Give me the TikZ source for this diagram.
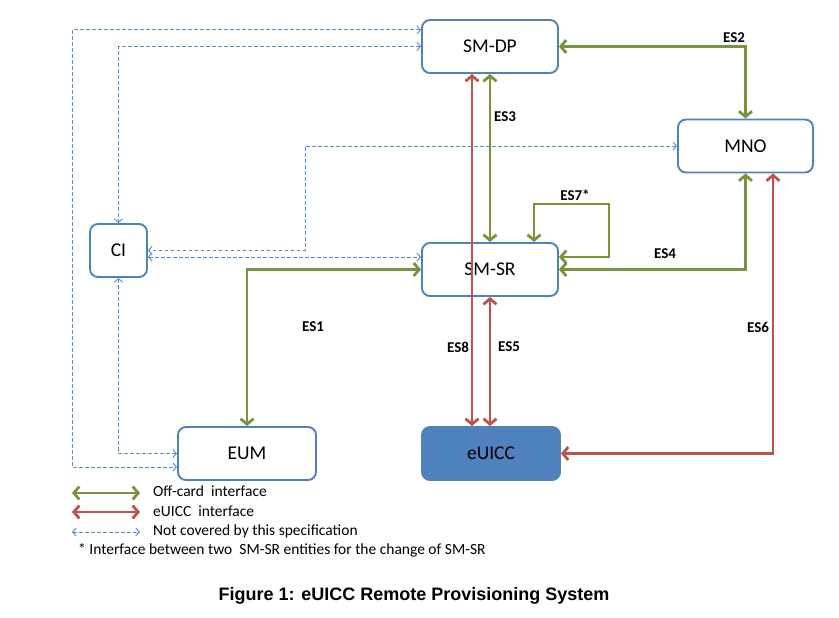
\documentclass[tikz,border=0pt]{standalone}
\usepackage{fontspec}
\setmainfont{Carlito}
\newfontfamily\capfont{Liberation Sans}
\usetikzlibrary{arrows.meta,calc}
\definecolor{boxblue}{HTML}{4F81BD}
\definecolor{offgreen}{HTML}{77933C}
\definecolor{uiccred}{HTML}{C0504D}
\definecolor{dashblue}{HTML}{5B8FCF}
\tikzset{
  ent/.style={draw=boxblue, line width=1.9pt, rounded corners=8pt, minimum width=136pt, minimum height=53pt, inner sep=0pt, font=\fontsize{19.5}{22}\selectfont},
  offcard/.style={draw=offgreen, line width=2.8pt, {Straight Barb[length=5.5pt,width=13pt]}-{Straight Barb[length=5.5pt,width=13pt]}},
  uicc/.style={draw=uiccred, line width=2.8pt, {Straight Barb[length=5.5pt,width=13pt]}-{Straight Barb[length=5.5pt,width=13pt]}},
  notcov/.style={draw=dashblue, line width=1pt, dash pattern=on 3.5pt off 2.5pt, {Straight Barb[length=3.5pt,width=8pt]}-{Straight Barb[length=3.5pt,width=8pt]}},
  eslbl/.style={font=\bfseries\fontsize{15}{17}\selectfont, inner sep=0pt},
  legtxt/.style={anchor=west, font=\fontsize{15.5}{17}\selectfont, inner sep=0pt}
}
\begin{document}
\begin{tikzpicture}[x=1pt,y=-1pt]
\useasboundingbox (0,0) rectangle (839,618);
% entities
\node[ent] (smdp) at (490,46.5) {SM-DP};
\node[ent, minimum width=135pt] (mno) at (745.5,146) {MNO};
\node[ent] (smsr) at (490,269.5) {SM-SR};
\node[ent, minimum width=57pt] (ci) at (118.5,250.5) {CI};
\node[ent, minimum width=138pt] (eum) at (247,453.5) {EUM};
\node[ent, minimum width=138pt, fill=boxblue] (euicc) at (491,453.5) {eUICC};
% helper coordinates
\coordinate (x8) at (472,0);
\coordinate (x6) at (773,0);
\coordinate (l7) at (609,204);
\coordinate (o1) at (72,467);
\coordinate (c4) at (305,251);
% off-card interfaces
\draw[offcard] (smdp.east) -| (mno.north);
\draw[offcard] (smdp.south) -- (smsr.north);
\draw[offcard] (mno.south) |- (smsr.east);
\draw[offcard] (smsr.west) -| (eum.north);
\draw[offcard] ([yshift=12.5pt]smsr.east) -- ([yshift=12.5pt]smsr.east -| l7) -- (l7) -- (l7 -| {$(smsr.north)+(44,0)$}) -- ($(smsr.north)+(44,0)$);
% eUICC interfaces
\draw[uicc] (smdp.south -| x8) -- (euicc.north -| x8);
\draw[uicc] (smsr.south) -- (euicc.north -| smsr.south);
\draw[uicc] (mno.south -| x6) |- (euicc.east);
% not covered
\draw[notcov] ([yshift=16.5pt]smdp.west) -| (o1) -- ([yshift=-13.5pt]eum.west);
\draw[notcov] (smdp.west) -| (ci.north);
\draw[notcov] (ci.south) |- (eum.west);
\draw[notcov] (mno.west) -| (c4 |- ci.east) -- (ci.east);
\draw[notcov] ([yshift=-6.5pt]ci.east) -- ([yshift=-6.5pt]ci.east -| smsr.west);
% labels
\node[eslbl] (es2) at (734,38) {ES2};
\node[eslbl] (es3) at (505,117) {ES3};
\node[eslbl] (es7) at (575,195) {ES7*};
\node[eslbl] (es4) at (665,254) {ES4};
\node[eslbl] (es1) at (313,327) {ES1};
\node[eslbl] (es6) at (758,327) {ES6};
\node[eslbl] (es8) at (458,347) {ES8};
\node[eslbl] (es5) at (509,347) {ES5};
% legend
\coordinate (lg1a) at (72,493); \coordinate (lg1b) at (140,493);
\coordinate (lg2a) at (72,512); \coordinate (lg2b) at (140,512);
\coordinate (lg3a) at (72,532); \coordinate (lg3b) at (140,532);
\draw[offcard] (lg1a) -- (lg1b);
\draw[uicc] (lg2a) -- (lg2b);
\draw[notcov] (lg3a) -- (lg3b);
\node[legtxt] (t1) at (153,491) {Off-card\ \ interface};
\node[legtxt] (t2) at (153,511) {eUICC\ \ interface};
\node[legtxt] (t3) at (153,531) {Not covered by this specification};
\node[legtxt] (t4) at (78,550) {* Interface between two\ \ SM-SR entities for the change of SM-SR};
% caption
\node[font=\capfont\bfseries\fontsize{18}{20}\selectfont, inner sep=0pt] (cap) at (414,596) {Figure 1: eUICC Remote Provisioning System};
\end{tikzpicture}
\end{document}
